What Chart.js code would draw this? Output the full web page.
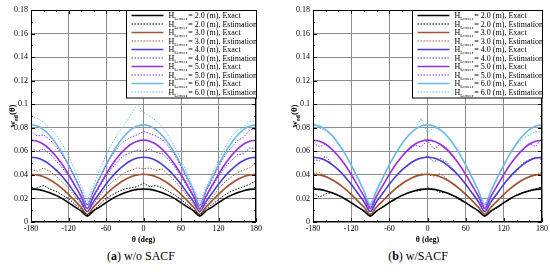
<!DOCTYPE html>
<html><head><meta charset="utf-8">
<script src="https://cdn.jsdelivr.net/npm/chart.js@4.4.1/dist/chart.umd.min.js"></script>
<style>
html,body{margin:0;padding:0;background:#fff;width:550px;height:275px;overflow:hidden}
#ca{position:absolute;left:0;top:0}
#cb{position:absolute;left:275px;top:0}
.cap{position:absolute;top:249px;font-family:"Liberation Serif","Times New Roman",serif;font-size:12px;color:#000;white-space:nowrap;transform:translateX(-50%)}
</style></head><body>
<canvas id="ca" width="275" height="245"></canvas>
<canvas id="cb" width="275" height="245"></canvas>
<div class="cap" style="left:141px">(<b>a</b>) w/o SACF</div>
<div class="cap" style="left:418px">(<b>b</b>) w/SACF</div>
<script>
// ---------- data ----------
const theta = [-180,-170,-160,-150,-140,-130,-120,-110,-100,-90,-80,-70,-60,-50,-40,-30,-20,-10,0,10,20,30,40,50,60,70,80,90,100,110,120,130,140,150,160,170,180];
const xTicks = [-180,-120,-60,0,60,120,180];
const yTicks = [0,0.02,0.04,0.06,0.08,0.1,0.12,0.14,0.16,0.18];
const heights = ['2.0','3.0','4.0','5.0','6.0'];
const colors = ['#000000','#a0522d','#4b3bd8','#9a2fe0','#6cbbe6'];

// exact (same in both panels)
const exact20 = [.028,.0277,.0266,.0249,.0226,.0198,.0165,.0129,.0095,.005,.0095,.0129,.0165,.0198,.0226,.0249,.0266,.0277,.028,.0277,.0266,.0249,.0226,.0198,.0165,.0129,.0095,.005,.0095,.0129,.0165,.0198,.0226,.0249,.0266,.0277,.028];
const exact30 = [.0405,.04,.0385,.0359,.0325,.0284,.0235,.0181,.0127,.0065,.0127,.0181,.0235,.0284,.0325,.0359,.0385,.04,.0405,.04,.0385,.0359,.0325,.0284,.0235,.0181,.0127,.0065,.0127,.0181,.0235,.0284,.0325,.0359,.0385,.04,.0405];
const exact40 = [.055,.0543,.0522,.0488,.0442,.0386,.032,.0247,.0173,.009,.0173,.0247,.032,.0386,.0442,.0488,.0522,.0543,.055,.0543,.0522,.0488,.0442,.0386,.032,.0247,.0173,.009,.0173,.0247,.032,.0386,.0442,.0488,.0522,.0543,.055];
const exact50 = [.0695,.0686,.066,.0617,.0559,.0488,.0405,.0313,.022,.0115,.022,.0313,.0405,.0488,.0559,.0617,.066,.0686,.0695,.0686,.066,.0617,.0559,.0488,.0405,.0313,.022,.0115,.022,.0313,.0405,.0488,.0559,.0617,.066,.0686,.0695];
const exact60 = [.0825,.0815,.0784,.0734,.0666,.0582,.0485,.0378,.0267,.0145,.0267,.0378,.0485,.0582,.0666,.0734,.0784,.0815,.0825,.0815,.0784,.0734,.0666,.0582,.0485,.0378,.0267,.0145,.0267,.0378,.0485,.0582,.0666,.0734,.0784,.0815,.0825];

// panel (a) estimation, w/o SACF
const estA20 = [.027,.029,.031,.028,.026,.023,.020,.015,.011,.006,.010,.015,.020,.023,.026,.028,.029,.030,.033,.030,.031,.029,.026,.023,.019,.015,.010,.006,.011,.015,.019,.023,.026,.028,.030,.032,.035];
const estA30 = [.045,.043,.046,.043,.039,.034,.029,.022,.015,.008,.015,.022,.029,.034,.038,.042,.044,.046,.045,.046,.044,.045,.040,.035,.029,.022,.015,.008,.015,.021,.028,.034,.038,.042,.044,.046,.050];
const estA40 = [.063,.060,.062,.058,.052,.046,.039,.031,.021,.011,.021,.030,.039,.046,.052,.057,.059,.061,.060,.062,.059,.058,.053,.047,.039,.030,.021,.010,.021,.030,.039,.046,.052,.057,.058,.063,.062];
const estA50 = [.077,.073,.074,.070,.064,.057,.049,.038,.027,.014,.026,.037,.048,.057,.064,.069,.072,.074,.077,.075,.073,.070,.064,.057,.047,.036,.025,.013,.026,.036,.047,.056,.063,.069,.072,.078,.079];
const estA60 = [.090,.088,.085,.080,.074,.066,.056,.044,.031,.018,.031,.044,.057,.067,.076,.083,.091,.100,.093,.090,.086,.081,.073,.064,.053,.041,.029,.017,.029,.041,.053,.063,.072,.078,.080,.085,.086];

// panel (b) estimation, w/SACF
const estB20 = [.025,.021,.024,.025,.022,.020,.016,.013,.009,.005,.009,.013,.017,.020,.022,.025,.026,.027,.029,.028,.025,.025,.022,.019,.016,.013,.009,.005,.009,.012,.016,.020,.023,.025,.026,.028,.030];
const estB30 = [.041,.042,.039,.036,.033,.028,.023,.018,.013,.007,.013,.018,.024,.029,.033,.036,.039,.041,.040,.039,.041,.037,.032,.028,.023,.018,.012,.007,.013,.018,.023,.028,.032,.036,.038,.040,.043];
const estB40 = [.053,.052,.056,.049,.044,.038,.032,.025,.017,.009,.017,.025,.032,.039,.044,.048,.052,.054,.056,.051,.054,.051,.045,.039,.032,.025,.017,.009,.017,.024,.032,.038,.043,.050,.053,.055,.053];
const estB50 = [.067,.064,.066,.062,.056,.049,.040,.031,.022,.012,.022,.031,.041,.049,.056,.061,.065,.064,.069,.062,.066,.063,.057,.049,.040,.031,.022,.012,.022,.031,.040,.049,.055,.062,.067,.064,.071];
const estB60 = [.085,.080,.077,.073,.066,.058,.048,.037,.026,.015,.026,.037,.048,.058,.066,.073,.079,.088,.076,.080,.078,.073,.066,.058,.048,.037,.026,.015,.026,.037,.048,.058,.066,.071,.074,.077,.076];

const exactAll = [exact20, exact30, exact40, exact50, exact60];
const estAAll = [estA20, estA30, estA40, estA50, estA60];
const estBAll = [estB20, estB30, estB40, estB50, estB60];

// ---------- drawing ----------
const SERIF = '"Liberation Serif","Times New Roman",serif';
const pts = arr => theta.map((t, i) => ({x: t, y: arr[i]}));

function buildDatasets(estAll) {
  const ds = [];
  for (let k = 0; k < heights.length; k++) {
    ds.push({label: 'H = ' + heights[k] + ' (m), Exact', kind: 'exact', data: pts(exactAll[k]),
      borderColor: colors[k], borderWidth: 1.6, pointRadius: 0, tension: 0.35, fill: false});
    ds.push({label: 'H = ' + heights[k] + ' (m), Estimation', kind: 'est', data: pts(estAll[k]),
      borderColor: colors[k], borderWidth: 1, borderDash: [1.5, 1.5], pointRadius: 0, tension: 0, fill: false});
  }
  return ds;
}

const framePlugin = {
  id: 'frame',
  afterDatasetsDraw(chart) {
    const {ctx, chartArea: a, scales: {x, y}} = chart;
    ctx.save();
    ctx.strokeStyle = '#000';
    ctx.lineWidth = 1;
    ctx.beginPath();
    for (let v = -180; v <= 180; v += 20) {
      const px = Math.round(x.getPixelForValue(v)) + 0.5;
      const L = xTicks.includes(v) ? 4 : 2;
      ctx.moveTo(px, a.bottom); ctx.lineTo(px, a.bottom - L);
      ctx.moveTo(px, a.top); ctx.lineTo(px, a.top + L);
    }
    for (let i = 0; i <= 18; i++) {
      const v = i / 100;
      const py = Math.round(y.getPixelForValue(v)) + 0.5;
      const L = i % 2 === 0 ? 4 : 2;
      ctx.moveTo(a.left, py); ctx.lineTo(a.left + L, py);
      ctx.moveTo(a.right, py); ctx.lineTo(a.right - L, py);
    }
    ctx.stroke();
    ctx.strokeRect(Math.round(a.left) + 0.5, Math.round(a.top) + 0.5, Math.round(a.width) - 1, Math.round(a.height) - 1);

    // legend box
    const W = 130, rowH = 8.5, H = rowH * 10 + 2.5;
    const x0 = Math.round(a.right - W) + 0.5, y0 = Math.round(a.top) + 0.5;
    ctx.fillStyle = '#fff';
    ctx.fillRect(x0, y0, W, H);
    ctx.strokeRect(x0, y0, W, H);
    chart.data.datasets.forEach((d, i) => {
      const cy = y0 + 5 + i * rowH;
      ctx.save();
      ctx.strokeStyle = d.borderColor;
      ctx.lineWidth = d.kind === 'exact' ? 1.6 : 1;
      ctx.setLineDash(d.kind === 'exact' ? [] : [1.5, 1.5]);
      ctx.beginPath(); ctx.moveTo(x0 + 5, cy); ctx.lineTo(x0 + 37, cy); ctx.stroke();
      ctx.restore();
      ctx.fillStyle = '#000';
      ctx.textBaseline = 'alphabetic';
      let tx = x0 + 42;
      const base = cy + 2.8;
      ctx.font = '8px ' + SERIF;
      ctx.fillText('H', tx, base); tx += ctx.measureText('H').width;
      ctx.font = '5px ' + SERIF;
      ctx.fillText('Lower', tx, base + 1.8); tx += ctx.measureText('Lower').width + 1;
      ctx.font = '8px ' + SERIF;
      const k = Math.floor(i / 2);
      ctx.fillText('= ' + heights[k] + ' (m), ' + (d.kind === 'exact' ? 'Exact' : 'Estimation'), tx, base);
    });

    // y title with subscript
    const ty = (a.top + a.bottom) / 2;
    const tx0 = chart.options.yTitleX;
    ctx.translate(tx0, ty);
    ctx.rotate(-Math.PI / 2);
    ctx.fillStyle = '#000';
    ctx.font = 'bold 9px ' + SERIF;
    const w1 = ctx.measureText('w').width;
    ctx.font = 'bold 6px ' + SERIF;
    const w2 = ctx.measureText('ed').width;
    ctx.font = 'bold 9px ' + SERIF;
    const w3 = ctx.measureText('(θ)').width;
    let sx = -(w1 + w2 + w3) / 2;
    ctx.textBaseline = 'alphabetic';
    ctx.fillText('w', sx, 3); sx += w1;
    ctx.font = 'bold 6px ' + SERIF;
    ctx.fillText('ed', sx, 5.5); sx += w2;
    ctx.font = 'bold 9px ' + SERIF;
    ctx.fillText('(θ)', sx, 3);
    ctx.restore();
  }
};

function makeChart(id, estAll, yAxisWidth, padRight, yTitleX) {
  new Chart(document.getElementById(id), {
    type: 'line',
    data: {datasets: buildDatasets(estAll)},
    options: {
      responsive: false, animation: false, devicePixelRatio: 1,
      yTitleX: yTitleX,
      layout: {padding: {top: 10, right: padRight, left: 0, bottom: 0}},
      plugins: {legend: {display: false}, tooltip: {enabled: false}},
      scales: {
        x: {
          type: 'linear', min: -180, max: 180,
          afterBuildTicks: s => { s.ticks = xTicks.map(v => ({value: v})); },
          afterFit: s => { s.height = 23; },
          grid: {color: '#8c8c8c', lineWidth: 1, drawTicks: false},
          border: {display: false},
          ticks: {font: {family: SERIF, size: 8}, color: '#000', padding: 2, maxRotation: 0, autoSkip: false},
          title: {display: true, text: 'θ (deg)', font: {family: SERIF, size: 8, weight: 'bold'}, color: '#000', padding: 0}
        },
        y: {
          type: 'linear', min: 0, max: 0.18,
          afterBuildTicks: s => { s.ticks = yTicks.map(v => ({value: v})); },
          afterFit: s => { s.width = yAxisWidth; },
          grid: {color: '#8c8c8c', lineWidth: 1, drawTicks: false},
          border: {display: false},
          ticks: {font: {family: SERIF, size: 8}, color: '#000', padding: 3,
            callback: v => String(parseFloat(Number(v).toFixed(2)))}
        }
      }
    },
    plugins: [framePlugin]
  });
}

makeChart('ca', estAAll, 31, 19, 12);
makeChart('cb', estBAll, 38, 8, 19);
</script>
</body></html>
